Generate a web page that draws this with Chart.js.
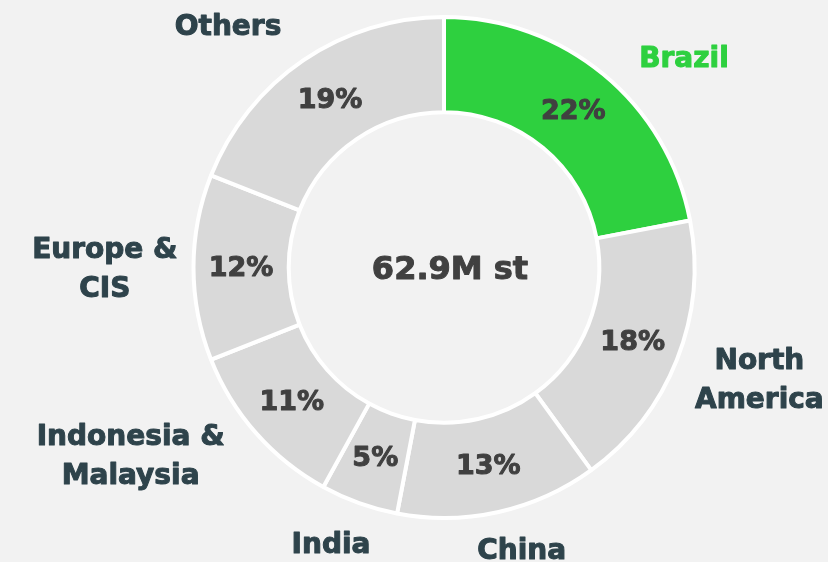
<!DOCTYPE html>
<html>
<head>
<meta charset="utf-8">
<script src="https://cdn.jsdelivr.net/npm/chart.js@4.4.1/dist/chart.umd.min.js"></script>
<style>
  html, body { margin: 0; padding: 0; background: #f2f2f2; }
  #wrap { width: 828px; height: 562px; }
</style>
</head>
<body>
<div id="wrap"><canvas id="shareChart" width="828" height="562"></canvas></div>
<script>
// data, clockwise from 12 o'clock
const regions = [['Brazil'], ['North', 'America'], ['China'], ['India'], ['Indonesia &', 'Malaysia'], ['Europe &', 'CIS'], ['Others']];
const shares = [22, 18, 13, 5, 11, 12, 19];
const highlight = ['Brazil'];
const centerText = '62.9M st';

// layout tweaks for the outside labels (dx, dy in px)
const labelNudge = [[39, 11], [4, 2], [9, 8], [-8, 11], [-40, -11], [4, 3], [-34, -5]];

const FONT = '"DejaVu Sans", sans-serif';
const GREEN = '#2ed03f';
const GREY = '#d9d9d9';
const LABEL = '#2e434b';
const PCT = '#404040';

// draw text a bit heavier (reference uses a very bold face)
function boldText(ctx, txt, x, y){
    ctx.strokeStyle = ctx.fillStyle;
    ctx.lineWidth = 1;
    ctx.lineJoin = 'round';
    ctx.strokeText(txt, x, y);
    ctx.fillText(txt, x, y);
}

const labelPlugin = {
    id: 'doughnutLabels',
    afterDraw(chart){
        const ctx = chart.ctx;
        const meta = chart.getDatasetMeta(0);
        ctx.save();
        meta.data.forEach(function(arc, i){
            const p = arc.getProps(['x', 'y', 'startAngle', 'endAngle', 'innerRadius', 'outerRadius']);
            const mid = (p.startAngle + p.endAngle) / 2;
            // percentage inside the ring
            const rm = (p.innerRadius + p.outerRadius) / 2;
            ctx.font = 'bold 27px ' + FONT;
            ctx.fillStyle = PCT;
            ctx.textAlign = 'center';
            ctx.textBaseline = 'middle';
            boldText(ctx, shares[i] + '%', p.x + Math.cos(mid) * rm, p.y + Math.sin(mid) * rm + 1);

            // region name outside
            const lines = regions[i];
            const lh = 39;
            ctx.font = 'bold 28px ' + FONT;
            const w = Math.max.apply(null, lines.map(l => ctx.measureText(l).width));
            const h = lines.length * lh - 13;
            const ro = p.outerRadius + 20;
            const cx = p.x + Math.cos(mid) * ro + Math.cos(mid) * w / 2 + labelNudge[i][0];
            const cy = p.y + Math.sin(mid) * ro + Math.sin(mid) * h / 2 + labelNudge[i][1];
            ctx.fillStyle = highlight.includes(lines[0]) ? GREEN : LABEL;
            lines.forEach(function(l, k){
                boldText(ctx, l, cx, cy + (k - (lines.length - 1) / 2) * lh);
            });
        });
        // centre total
        const a = meta.data[0];
        ctx.font = 'bold 32px ' + FONT;
        ctx.fillStyle = PCT;
        boldText(ctx, centerText, a.x + 6, a.y + 3);
        ctx.restore();
    }
};

document.addEventListener('DOMContentLoaded', function(){
    const el = document.getElementById('shareChart');
    new Chart(el, {
        type: 'doughnut',
        data: {
            labels: regions.map(r => r.join(' ')),
            datasets: [{
                data: shares,
                backgroundColor: regions.map(r => highlight.includes(r[0]) ? GREEN : GREY),
                borderColor: '#ffffff',
                borderWidth: 4,
                hoverOffset: 0
            }]
        },
        options: {
            responsive: false,
            animation: false,
            cutout: '62%',
            layout: { padding: { left: 60, right: 0, top: 15, bottom: 42 } },
            plugins: { legend: { display: false }, tooltip: { enabled: false } }
        },
        plugins: [labelPlugin]
    });
});
</script>
</body>
</html>
